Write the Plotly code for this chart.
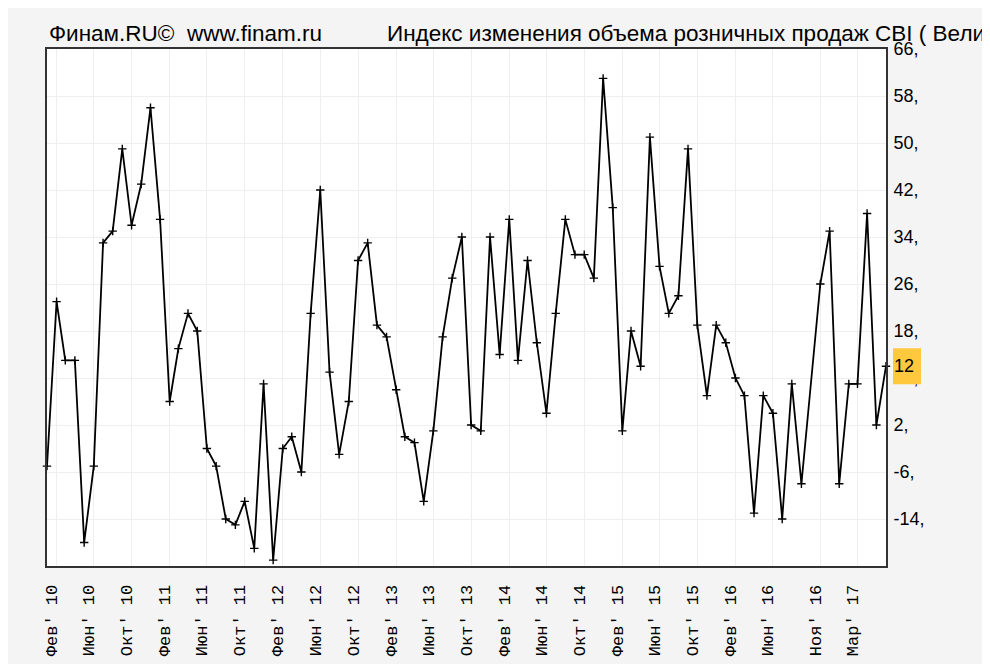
import pandas as pd
import plotly.graph_objects as go

# Monthly values, Jan 2010 .. Jun 2017 (Oct 2016 absent in source)
v2010 = [-5, 23, 13, 13, -18, -5, 33, 35, 49, 36, 43, 56]
v2011 = [37, 6, 15, 21, 18, -2, -5, -14, -15, -11, -19, 9]
v2012 = [-21, -2, 0, -6, 21, 42, 11, -3, 6, 30, 33, 19]
v2013 = [17, 8, 0, -1, -11, 1, 17, 27, 34, 2, 1, 34]
v2014 = [14, 37, 13, 30, 16, 4, 21, 37, 31, 31, 27, 61]
v2015 = [39, 1, 18, 12, 51, 29, 21, 24, 49, 19, 7, 19]
v2016 = [16, 10, 7, -13, 7, 4, -14, 9, -8, 26, 35]      # no October
v2017 = [-8, 9, 9, 38, 2, 12]

values = v2010 + v2011 + v2012 + v2013 + v2014 + v2015 + v2016 + v2017
dates = [d for d in pd.date_range("2010-01-01", "2017-06-01", freq="MS")
         if not (d.year == 2016 and d.month == 10)]

month_ru = ["Янв", "Фев", "Мар", "Апр", "Май", "Июн", "Июл", "Авг", "Сен", "Окт", "Ноя", "Дек"]
tick_idx = list(range(1, len(dates), 4))
tick_vals = [dates[i] for i in tick_idx]
tick_text = [f"{month_ru[dates[i].month - 1]}' {dates[i].year % 100:02d}" for i in tick_idx]

y_ticks = [66, 58, 50, 42, 34, 26, 18, 10, 2, -6, -14]
y_text = [f"{t}," for t in y_ticks]
y_range = [-22, 66]
last_val = values[-1]

title_left = "Финам.RU©  www.finam.ru"
title_right = "Индекс изменения объема розничных продаж CBI ( Великобритания )"

# page body adds 8px offset; figure sized to compensate
W, H = 982, 656
ML, MR, MT, MB = 39, 104, 41, 98
PW = W - ML - MR
PH = H - MT - MB

fig = go.Figure()
fig.add_trace(go.Scatter(
    x=dates, y=values, mode="lines+markers",
    line=dict(color="#000000", width=1.8),
    marker=dict(symbol="cross-thin", size=6, line=dict(color="#000000", width=1.4)),
    showlegend=False, cliponaxis=False,
))

fig.update_layout(
    width=W, height=H,
    margin=dict(l=ML, r=MR, t=MT, b=MB),
    paper_bgcolor="#f4f4f4", plot_bgcolor="#ffffff",
    font=dict(family="Liberation Sans, Arial, sans-serif", color="#000000"),
    xaxis=dict(
        type="date", range=[dates[0], dates[-1]], automargin=False,
        tickmode="array", tickvals=tick_vals, ticktext=tick_text,
        tickangle=-90, ticks="", showgrid=True, gridcolor="#efefef", gridwidth=1,
        tickfont=dict(family="Liberation Mono, Courier New, monospace", size=17, color="#000000"),
        showline=True, linecolor="#333333", linewidth=2, mirror=True,
        zeroline=False, ticklabelshift=-5, ticklabelstandoff=10,
    ),
    yaxis=dict(
        side="right", range=y_range, automargin=False,
        tickmode="array", tickvals=y_ticks, ticktext=y_text,
        ticks="", showgrid=True, gridcolor="#efefef", gridwidth=1,
        tickfont=dict(family="Liberation Sans, Arial, sans-serif", size=18, color="#000000"),
        showline=True, linecolor="#333333", linewidth=2, mirror=True,
        zeroline=False, ticklabelstandoff=2,
    ),
)

px_per_unit = PH / (y_range[1] - y_range[0])
fig.add_shape(type="rect", xref="paper", yref="y",
              x0=1 + 7 / PW, x1=1 + 35 / PW,
              y0=last_val - 18 / px_per_unit, y1=last_val + 18 / px_per_unit,
              fillcolor="#ffc83d", line=dict(width=0), layer="above")
fig.add_annotation(xref="paper", yref="y", x=1 + 6 / PW, y=last_val,
                   text=str(last_val), showarrow=False, xanchor="left", yanchor="middle",
                   font=dict(size=18, color="#000000"))

fig.add_annotation(xref="paper", yref="paper", x=0, y=1, xanchor="left", yanchor="bottom",
                   yshift=1, text=title_left, showarrow=False,
                   font=dict(size=22.5, color="#000000"))
fig.add_annotation(xref="paper", yref="paper", x=(385 - 47) / PW, y=1, xanchor="left",
                   yanchor="bottom", yshift=1, text=title_right, showarrow=False,
                   font=dict(size=22.5, color="#000000"))

fig.write_html("out.html")
